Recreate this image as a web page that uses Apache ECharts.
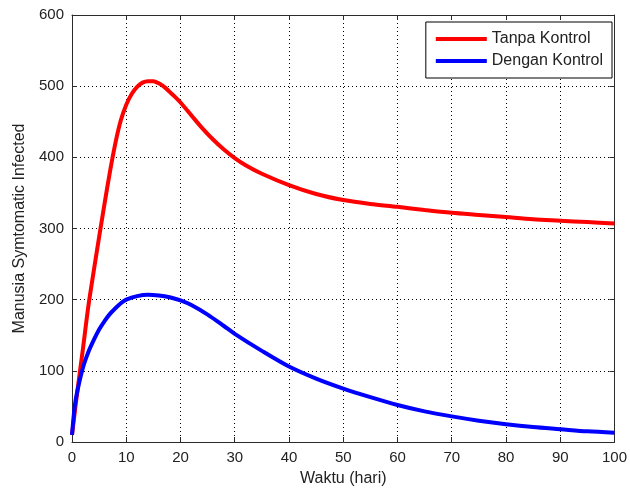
<!DOCTYPE html>
<html>
<head>
<meta charset="utf-8">
<script src="https://cdn.jsdelivr.net/npm/echarts@6/dist/echarts.min.js"></script>
<style>html,body{margin:0;padding:0;background:#fff;}#c{width:630px;height:492px;}</style>
</head>
<body>
<div id="c"></div>
<script>
var xTicks = [0, 10, 20, 30, 40, 50, 60, 70, 80, 90, 100];
var yTicks = [0, 100, 200, 300, 400, 500, 600];
var seriesNames = ['Tanpa Kontrol', 'Dengan Kontrol'];

var tRed = [0, 1, 2, 3, 4, 5, 6, 7, 8, 9, 10, 11, 12, 13, 14, 15, 16, 17, 18, 19, 20, 22, 24, 26, 28, 30, 32, 35, 40, 45, 50, 55, 60, 65, 70, 75, 80, 85, 90, 95, 100];
var red = [10, 72, 130, 190, 240, 288, 335, 380, 420, 452, 474, 489, 499, 505, 507, 507, 504, 499, 492, 485, 477, 459, 441, 425, 411, 399, 389, 377, 361, 348.5, 340, 334.5, 330.5, 326, 322, 319, 316, 313, 311, 309, 307];

var tBlue = [0, 0.5, 1, 2, 3, 4, 5, 6, 7, 8, 9, 10, 12, 14, 16, 18, 20, 22, 25, 28, 30, 35, 40, 45, 50, 55, 60, 65, 70, 75, 80, 85, 90, 95, 100];
var blue = [10, 50, 72, 104, 126, 143, 158, 170, 180, 188, 195, 200, 205, 207, 206, 203.5, 199, 192.5, 179, 163, 152, 128, 106, 89, 75, 63, 52, 43, 36, 30, 25, 21, 18, 15, 13];

function pairs(xs, ys) { return xs.map(function (x, i) { return [x, ys[i]]; }); }

var FONT = 'Liberation Sans, Arial, Helvetica, sans-serif';
var AX = '#2b2b2b';
var TXT = '#222';

var chart = echarts.init(document.getElementById('c'), null, {renderer: 'canvas'});
var baseX = {
  type: 'value', min: xTicks[0], max: xTicks[xTicks.length - 1], interval: 10,
  axisLine: {show: true, onZero: false, lineStyle: {color: AX, width: 1}},
  axisTick: {show: true, inside: true, length: 5, lineStyle: {color: AX}},
  splitLine: {show: false}
};
var baseY = {
  type: 'value', min: yTicks[0], max: yTicks[yTicks.length - 1], interval: 100,
  axisLine: {show: true, onZero: false, lineStyle: {color: AX, width: 1}},
  axisTick: {show: true, inside: true, length: 5, lineStyle: {color: AX}},
  splitLine: {show: false}
};
var option = {
  backgroundColor: '#fff',
  animation: false,
  grid: {left: 72, right: 13, top: 15, bottom: 45, containLabel: false},
  legend: {
    orient: 'vertical', right: 18, top: 22,
    data: seriesNames,
    icon: 'rect', itemWidth: 51, itemHeight: 4, itemGap: 6,
    padding: [9, 9, 9, 10],
    borderColor: '#000', borderWidth: 1, backgroundColor: '#fff',
    textStyle: {fontFamily: FONT, fontSize: 16, color: TXT, padding: [0, 0, 0, 0]},
    itemStyle: {borderWidth: 0}
  },
  xAxis: [
    Object.assign({}, baseX, {
      position: 'bottom',
      name: 'Waktu (hari)', nameLocation: 'middle', nameGap: 29,
      nameTextStyle: {fontFamily: FONT, fontSize: 16, color: TXT},
      axisLabel: {show: true, margin: 8, fontFamily: FONT, fontSize: 15, color: TXT},
      splitLine: {show: true, lineStyle: {color: '#000', type: [1, 3], width: 1}}
    }),
    Object.assign({}, baseX, {position: 'top', axisLabel: {show: false}})
  ],
  yAxis: [
    Object.assign({}, baseY, {
      position: 'left',
      name: 'Manusia Symtomatic Infected', nameLocation: 'middle', nameGap: 43,
      nameTextStyle: {fontFamily: FONT, fontSize: 16, color: TXT},
      axisLabel: {show: true, margin: 8, fontFamily: FONT, fontSize: 15, color: TXT},
      splitLine: {show: true, lineStyle: {color: '#000', type: [1, 3], width: 1}}
    }),
    Object.assign({}, baseY, {position: 'right', axisLabel: {show: false}})
  ],
  series: [
    {
      name: seriesNames[0], type: 'line', data: pairs(tRed, red),
      smooth: 0.3, showSymbol: false, symbol: 'none',
      lineStyle: {color: '#ff0000', width: 4}, itemStyle: {color: '#ff0000'}
    },
    {
      name: seriesNames[1], type: 'line', data: pairs(tBlue, blue),
      smooth: 0.3, showSymbol: false, symbol: 'none',
      lineStyle: {color: '#0000ff', width: 4}, itemStyle: {color: '#0000ff'}
    }
  ]
};
chart.setOption(option);
</script>
</body>
</html>
